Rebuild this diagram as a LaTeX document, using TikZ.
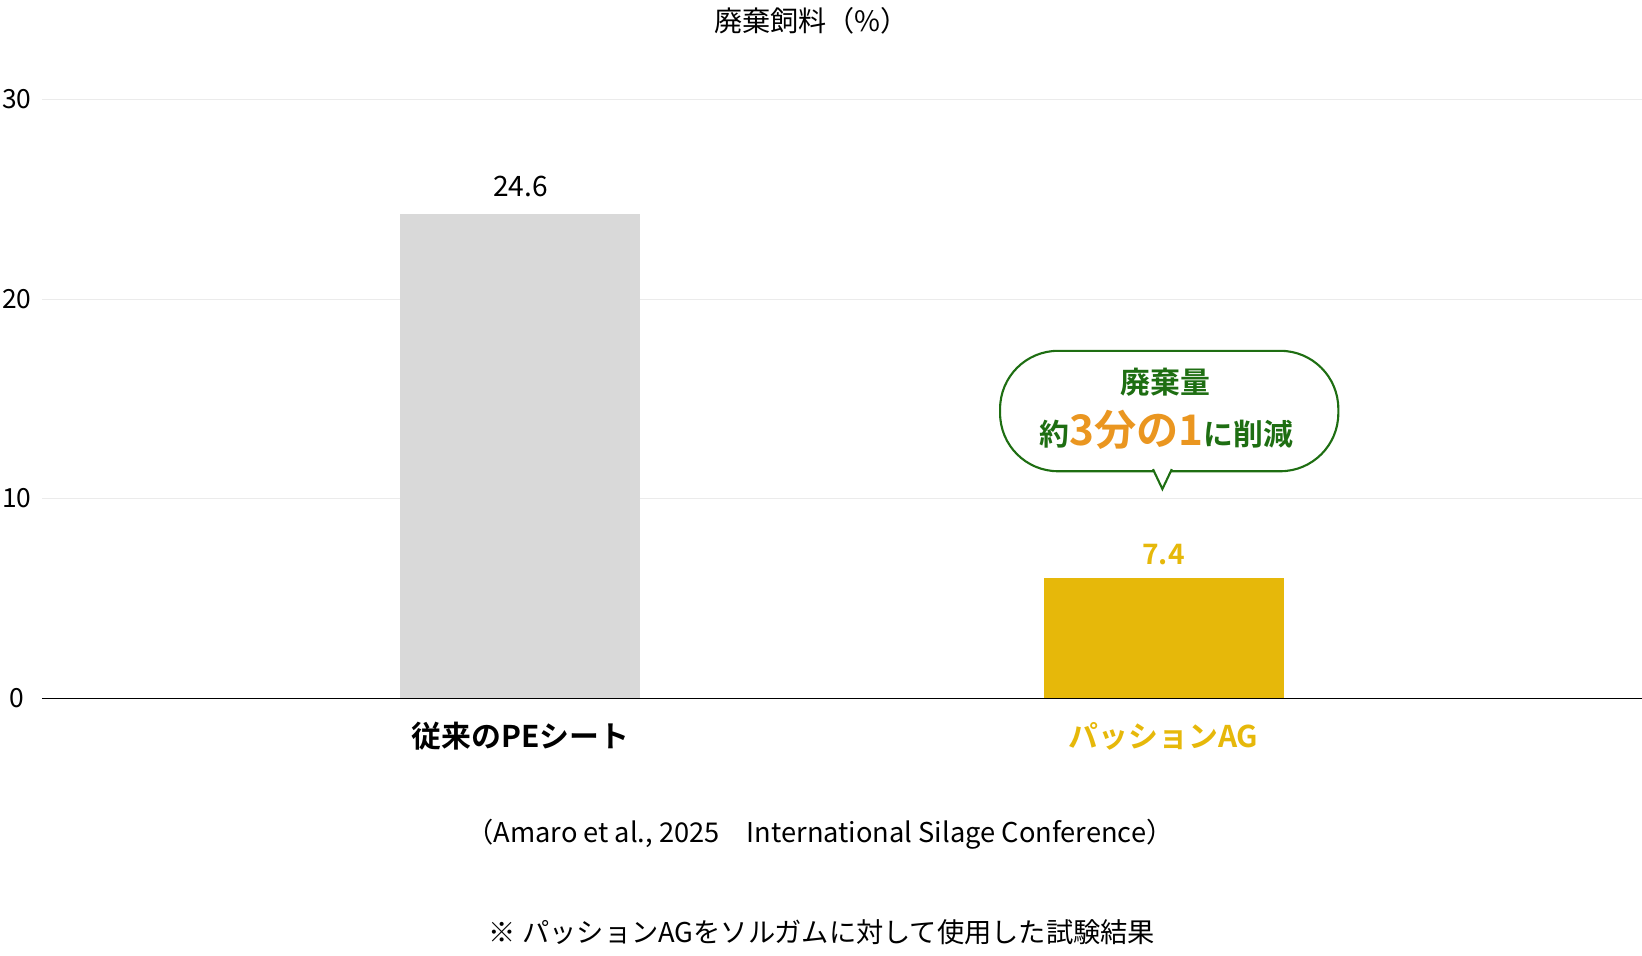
\documentclass[tikz,border=0pt]{standalone}
\usepackage{fontspec}
\setmainfont{Noto Sans CJK JP}
\newfontfamily\jpbold{Noto Sans CJK JP Bold}
\definecolor{barGray}{HTML}{D9D9D9}
\definecolor{barGold}{HTML}{E6B80A}
\definecolor{bubGreen}{HTML}{1E6E12}
\definecolor{numOrange}{HTML}{EA9620}
\definecolor{gridGray}{HTML}{EBEBEB}
\tikzset{
    ticklbl/.style={anchor=west,font=\fontsize{15}{18}\selectfont},
    barlbl/.style={font=\fontsize{16}{19}\selectfont},
    catlbl/.style={font=\jpbold\fontsize{17}{20}\selectfont},
    bubble/.style={draw=bubGreen,line width=1.2pt,fill=white,rounded corners=33pt,minimum width=323\pxu,minimum height=115\pxu,align=center,inner sep=0pt},
    notelbl/.style={font=\fontsize{15.5}{19}\selectfont}
}
\newlength{\pxu}\setlength{\pxu}{0.02094cm}
\begin{document}
\begin{tikzpicture}[x=0.02094cm,y=-0.02094cm]
        \useasboundingbox (0,0) rectangle (1568,912);
        %---
        \node[font=\fontsize{16}{19}\selectfont] (title) at (775,20) {廃棄飼料（\%）};
        \foreach \v/\yy in {10/476,20/286,30/95} {
            \draw[gridGray,line width=0.8pt] (40,\yy) -- (1568,\yy);
            \node[ticklbl] (tick\v) at (-4,\yy) {\v};
        }
        \node[ticklbl] (tick0) at (3,667) {0};

        %---
        \fill[barGray] (382,204) rectangle (611,667);
        \fill[barGold] (997,552) rectangle (1226,667);
        \draw[black,line width=0.9pt] (40,667) -- (1568,667);
        \node[barlbl] (v-pe) at (497,178) {24.6};
        \node[barlbl,text=barGold,font=\jpbold\fontsize{16}{19}\selectfont] (v-ag) at (1111,530) {7.4};
        \node[catlbl] (c-pe) at (497,703) {従来のPEシート};
        \node[catlbl,text=barGold] (c-ag) at (1111,703) {パッションAG};

        %---
        \node[bubble] (bub) at (1116.5,392.5) {};
        \coordinate (tip) at (1110,467);
        \filldraw[draw=bubGreen,fill=white,line width=1.2pt,line join=miter] (1101,448) -- (tip) -- (1119,448);
        \fill[white] (1102,446) -- (1110,460) -- (1118,446) -- cycle;
        \node[text=bubGreen,font=\jpbold\fontsize{17}{20}\selectfont] (bub-l1) at (1113,365) {廃棄量};
        \node[text=bubGreen,font=\jpbold\fontsize{17}{20}\selectfont] (bub-l2) at (1114,410)
            {約{\color{numOrange}\fontsize{24}{28}\selectfont 3分の1}に削減};

        %---
        \node[notelbl] (cite) at (783,797) {（Amaro et al., 2025　International Silage Conference）};
        \node[notelbl] (note) at (785,890) {※ パッションAGをソルガムに対して使用した試験結果};
    \end{tikzpicture}
\end{document}
